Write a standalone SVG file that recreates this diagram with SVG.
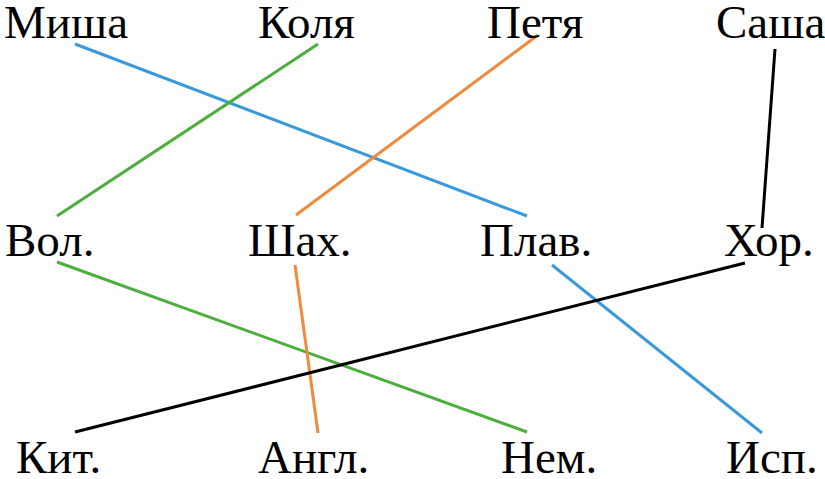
<svg xmlns="http://www.w3.org/2000/svg" width="825" height="479" viewBox="0 0 825 479">
<style>
text{font-family:"Liberation Serif","DejaVu Serif","Noto Serif",serif;font-size:47px;fill:#000}
line{stroke-width:3;stroke-linecap:butt}
.b{stroke:#3a9ad9}.g{stroke:#4cae3c}.o{stroke:#f08a3c}.k{stroke:#000}
</style>
<rect width="825" height="479" fill="#fff"/>
<g id="connectors">
<line class="b" x1="75" y1="44" x2="527" y2="216"/>
<line class="b" x1="552" y1="265" x2="762" y2="433"/>
<line class="g" x1="318" y1="44" x2="57" y2="216"/>
<line class="g" x1="57" y1="262" x2="527" y2="432"/>
<line class="o" x1="538" y1="35" x2="296" y2="215"/>
<line class="o" x1="295" y1="265" x2="318" y2="433"/>
<line class="k" x1="775" y1="49" x2="762" y2="228"/>
<line class="k" x1="745" y1="263" x2="75" y2="432"/>
</g>
<g id="misha"><text x="4" y="38">Миша</text></g>
<g id="kolya"><text x="258" y="38">Коля</text></g>
<g id="petya"><text x="487" y="38">Петя</text></g>
<g id="sasha"><text x="716" y="38">Саша</text></g>
<g id="vol"><text x="5" y="256">Вол.</text></g>
<g id="shah"><text x="248" y="256">Шах.</text></g>
<g id="plav"><text x="480" y="256">Плав.</text></g>
<g id="hor"><text x="724" y="256">Хор.</text></g>
<g id="kit"><text x="16" y="473">Кит.</text></g>
<g id="angl"><text x="258" y="473">Англ.</text></g>
<g id="nem"><text x="501" y="473">Нем.</text></g>
<g id="isp"><text x="726" y="473">Исп.</text></g>
</svg>
